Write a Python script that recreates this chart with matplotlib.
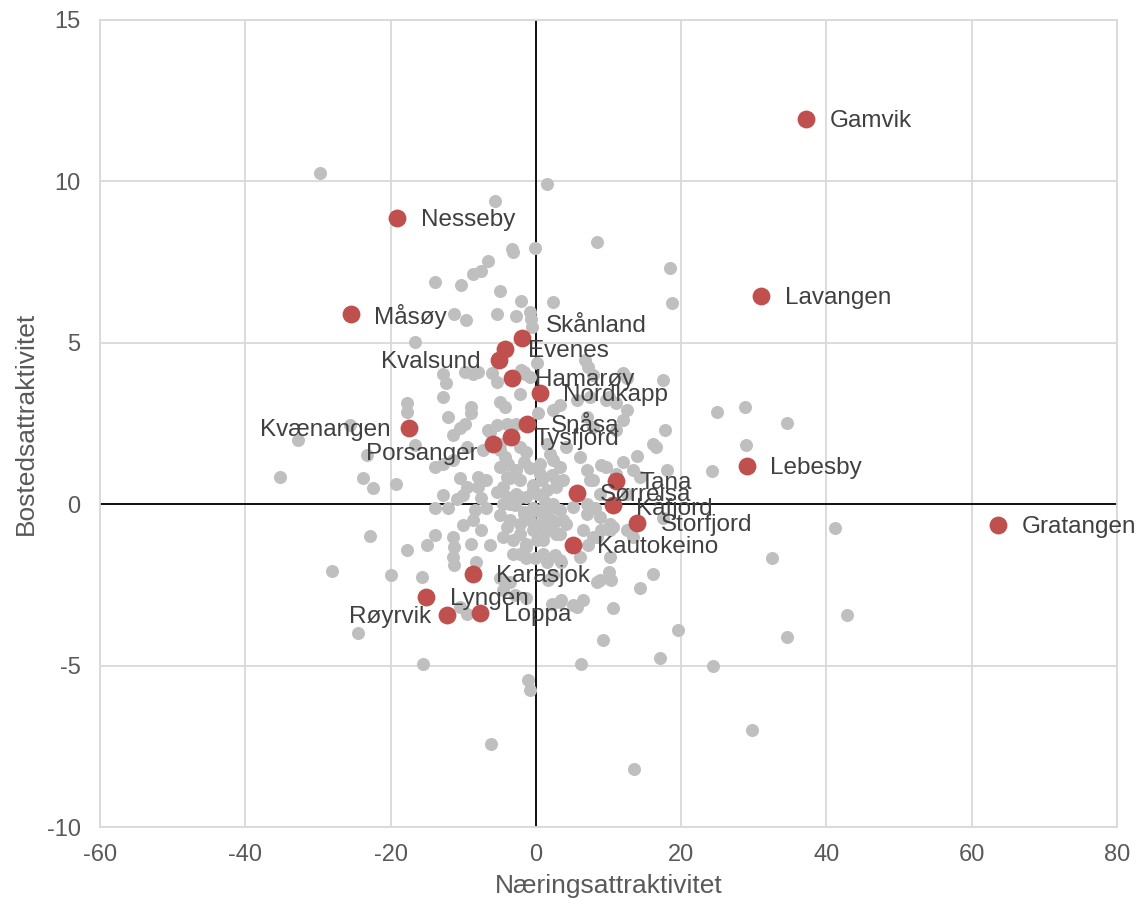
import matplotlib
matplotlib.use("Agg")
import matplotlib.pyplot as plt

plt.rcParams['font.family'] = ['Liberation Sans', 'DejaVu Sans']
plt.rcParams['axes.unicode_minus'] = False

# ============================
# DATA
# ============================
# alle kommuner (grå)
gray_x = [-29.7, 1.6, -5.6, -3.3, -3.1, -0.1, -6.6, -7.5, -8.7, -13.9, -10.3, -4.9, -2.0, 2.3,
          -11.3, -9.6, -5.3, -2.8, -0.8, -0.6, -0.5, -16.7, 8.4, 18.5, 18.8,
          0.1, -1.7, -0.8, 6.7, 7.2, 12.0, 17.5,
          -12.8, -12.4, -12.8, -9.8, -8.6, -7.9, -6.1, -5.4, -2.0, -1.5, -2.2, -5.0, -4.3, -8.9,
          7.9, 12.5, 10.0, 11.1,
          -12.1, -8.9, -9.8, -10.5, -11.4, -6.6, -5.4, -2.7, 0.3, 2.4, 3.3, 5.6, 7.4,
          -5.0, -2.2, -1.3, 1.5, 1.9, -13.9, -10.5, -9.5, -10.0, -12.8, -10.9, -13.9, -12.1,
          -7.9, -6.8, -7.9, -7.5, -6.8, -8.4,
          -5.0, -3.8, -2.7, -1.7, -0.8, 0.6, 2.4, 3.3, 2.2, 0.8, -0.4, -2.2, -3.6, -4.5, -5.4,
          -4.0, -2.7, -1.3, 0.1, 1.5, 2.8, 3.8, -4.5, -2.9, -1.7, -0.4, 1.2, 2.4, 3.3, 1.5,
          -5.0, -3.6, -2.2, -0.8, 0.6, 2.2, 3.8,
          7.0, 9.0, 7.9, 11.1, 7.0, 8.1,
          -10.0, -8.6, -7.5, -13.9, -11.4, -15.0, -11.2, -11.4, -11.2, -8.9, -6.3, -8.2,
          -4.5, -3.1, -2.2, -1.3, 0.1, 1.2, 2.4, 3.3, 4.2, -2.2, -1.3, -0.1, 1.0, 1.5, 2.6, 3.5,
          -5.0, -3.6, -4.5, -2.9, -1.3, 1.7, 2.4, 2.2, 3.5, 5.1, 6.5, 8.4, 10.0, 10.4, 10.6,
          9.3, 7.2, 6.1, 10.2, 7.9, 9.0, 10.6, -15.7, -10.5, -9.5,
          -17.8, -17.8, -32.7, -35.2, -23.8, -22.4, -19.2, -23.3, -16.7, -12.8, -17.8, -22.9,
          -28.1, -19.9, -24.5, -25.6, -6.3, -5.0, -9.5, -7.3, -11.4,
          24.9, 28.8, 34.6, 28.9, 24.2, 17.8, 16.1, 16.6, 13.9, 12.0, 9.7, 13.4, 14.3, 18.0,
          12.5, 12.0, 11.1, 9.7, 7.0, 7.9, 4.2, 6.1, 7.4, 8.8, 5.1, 7.0, 8.8, 10.2, 6.5, 8.4,
          10.2, 12.5, 13.4, 12.5, 32.5, 16.1, 14.3, 8.8, 5.6, 3.3, 19.6, 17.5,
          41.2, 42.9, 34.6, 17.1, 24.4, 29.8, 13.5,
          6.2, -1.1, -0.8, -6.2, -15.6,
          -4.0, -4.3, -4.0, 0.6, 2.8, -0.4, -2.2, -3.6, -1.7, 0.6, 2.4, 1.5, -0.4, -4.0, 2.8,
          1.0, -1.3, -3.1, 3.3]
gray_y = [10.26, 9.92, 9.40, 7.92, 7.82, 7.94, 7.54, 7.23, 7.13, 6.87, 6.79, 6.62, 6.30, 6.27,
          5.89, 5.70, 5.89, 5.83, 5.96, 5.75, 5.49, 5.01, 8.13, 7.33, 6.22,
          4.36, 4.10, 3.94, 4.46, 4.25, 4.07, 3.86,
          4.03, 3.76, 3.32, 4.10, 4.03, 4.10, 4.05, 3.79, 4.15, 4.03, 3.41, 3.17, 3.01, 3.01,
          4.00, 3.90, 3.32, 3.12,
          2.70, 2.81, 2.50, 2.35, 2.14, 2.29, 2.45, 2.50, 2.81, 2.91, 3.07, 3.22, 3.32,
          1.67, 1.78, 1.62, 1.88, 1.57, 1.16, 0.80, 0.54, 0.28, 0.28, 0.15, -0.13, -0.13,
          0.85, 0.74, 0.54, 0.18, -0.13, -0.19,
          1.16, 1.26, 1.05, 1.31, 1.11, 1.26, 1.36, 1.16, 0.90, 0.74, 0.59, 0.74, 0.80, 0.54, 0.38,
          0.23, 0.33, 0.23, 0.33, 0.43, 0.54, 0.74, 0.02, -0.03, -0.24, -0.13, 0.07, 0.02, -0.19, -0.29,
          -0.34, -0.50, -0.60, -0.50, -0.60, -0.50, -0.50,
          1.05, 1.21, 0.74, 0.95, 0.02, -0.13,
          -0.65, -0.50, -0.81, -0.96, -1.01, -1.27, -1.32, -1.63, -1.89, -1.22, -1.27, -1.79,
          -1.01, -1.12, -0.91, -1.22, -1.12, -0.86, -0.65, -0.91, -0.60, -1.53, -1.68, -1.68, -1.53, -1.79, -1.58, -1.79,
          -2.30, -2.41, -2.66, -2.82, -2.92, -2.35, -2.20, -3.08, -2.97, -3.13, -2.97, -2.41, -2.10, -2.35, -3.23,
          -4.21, -1.27, -1.63, -1.63, -1.01, -0.81, -0.70, -2.25, -3.18, -3.39,
          3.12, 2.86, 1.98, 0.85, 0.80, 0.49, 0.64, 1.52, 1.83, 1.26, -1.43, -0.99,
          -2.08, -2.18, -4.00, 2.45, 2.24, 1.88, 1.78, 1.67, 1.36,
          2.86, 3.01, 2.52, 1.83, 1.03, 2.29, 1.88, 1.78, 1.49, 1.31, 1.16, 1.07, 0.85, 1.05,
          2.91, 2.60, 2.29, 3.22, 2.70, 2.39, 1.78, 1.47, 0.74, 0.33, -0.08, -0.29, -0.39, -0.60, -0.81, -1.01,
          -0.81, -0.81, -1.01, 0.33, -1.68, -2.15, -2.61, -2.35, -3.18, -3.03, -3.89, -0.44,
          -0.75, -3.44, -4.11, -4.76, -5.01, -6.98, -8.19,
          -4.96, -5.45, -5.76, -7.43, -4.96,
          2.50, 1.47, 0.85, 0.95, 0.74, 0.43, 0.23, 0.02, -0.29, -0.24, -0.08, -0.60, -0.81, -0.70, -0.91,
          -1.12, -1.32, -1.53, -1.73]

# utvalgte kommuner (røde)
names = ["Gamvik", "Nesseby", "Lavangen", "Måsøy", "Skånland", "Evenes", "Kvalsund",
         "Hamarøy", "Nordkapp", "Snåsa", "Tysfjord", "Kvænangen", "Porsanger", "Lebesby",
         "Tana", "Sørreisa", "Kåfjord", "Storfjord", "Kautokeino", "Gratangen", "Karasjok",
         "Lyngen", "Røyrvik", "Loppa"]
red_x = [37.2, -19.1, 31.0, -25.5, -1.9, -4.3, -5.1, -3.3, 0.55, -1.2, -3.4, -17.5, -5.9, 29.0,
         11.0, 5.6, 10.6, 13.9, 5.1, 63.6, -8.7, -15.1, -12.3, -7.7]
red_y = [11.93, 8.86, 6.44, 5.89, 5.14, 4.80, 4.46, 3.90, 3.44, 2.48, 2.08, 2.35, 1.86, 1.18,
         0.71, 0.34, -0.03, -0.59, -1.27, -0.65, -2.17, -2.88, -3.44, -3.38]

# etikett-plassering (default: til høyre)
label_pos = {"Skånland": (17, 9, "left"), "Kvalsund": (-13, -1.5, "right"),
             "Kvænangen": (-13, -1.5, "right"), "Porsanger": (-11, -7, "right"),
             "Røyrvik": (-11, -1.5, "right")}

# ============================
# PLOT
# ============================
fig = plt.figure(figsize=(11.37, 9.06), dpi=100)
ax = fig.add_axes([100 / 1137, 1 - 827 / 906, 1017 / 1137, 807 / 906])

ax.scatter(gray_x, gray_y, s=88, color="#bfbfbf", linewidths=0, zorder=2)
ax.scatter(red_x, red_y, s=165, color="#c0504d", linewidths=0, zorder=3)

for n, x, y in zip(names, red_x, red_y):
    dx, dy, ha = label_pos.get(n, (17, -1.5, "left"))
    ax.annotate(n, (x, y), xytext=(dx, dy), textcoords="offset points",
                ha=ha, va="center", fontsize=17.5, color="#404040", zorder=5)

ax.axhline(0, color="black", lw=1.3, zorder=1)
ax.axvline(0, color="black", lw=1.3, zorder=1)

ax.set_xlim(-60, 80)
ax.set_ylim(-10, 15)
ax.set_xticks(range(-60, 81, 20))
ax.set_yticks(range(-10, 16, 5))
ax.grid(True, color="#d9d9d9", lw=1.3, zorder=0)
ax.set_axisbelow(True)
for s in ax.spines.values():
    s.set_color("#d9d9d9")
    s.set_linewidth(1.3)
ax.tick_params(length=0, labelsize=17, labelcolor="#595959")
ax.tick_params(axis="x", pad=12)
ax.tick_params(axis="y", pad=14)

ax.set_xlabel("Næringsattraktivitet", fontsize=19, color="#595959", labelpad=6)
ax.set_ylabel("Bostedsattraktivitet", fontsize=19, color="#595959", labelpad=6)

fig.savefig("out.png", dpi=100)
